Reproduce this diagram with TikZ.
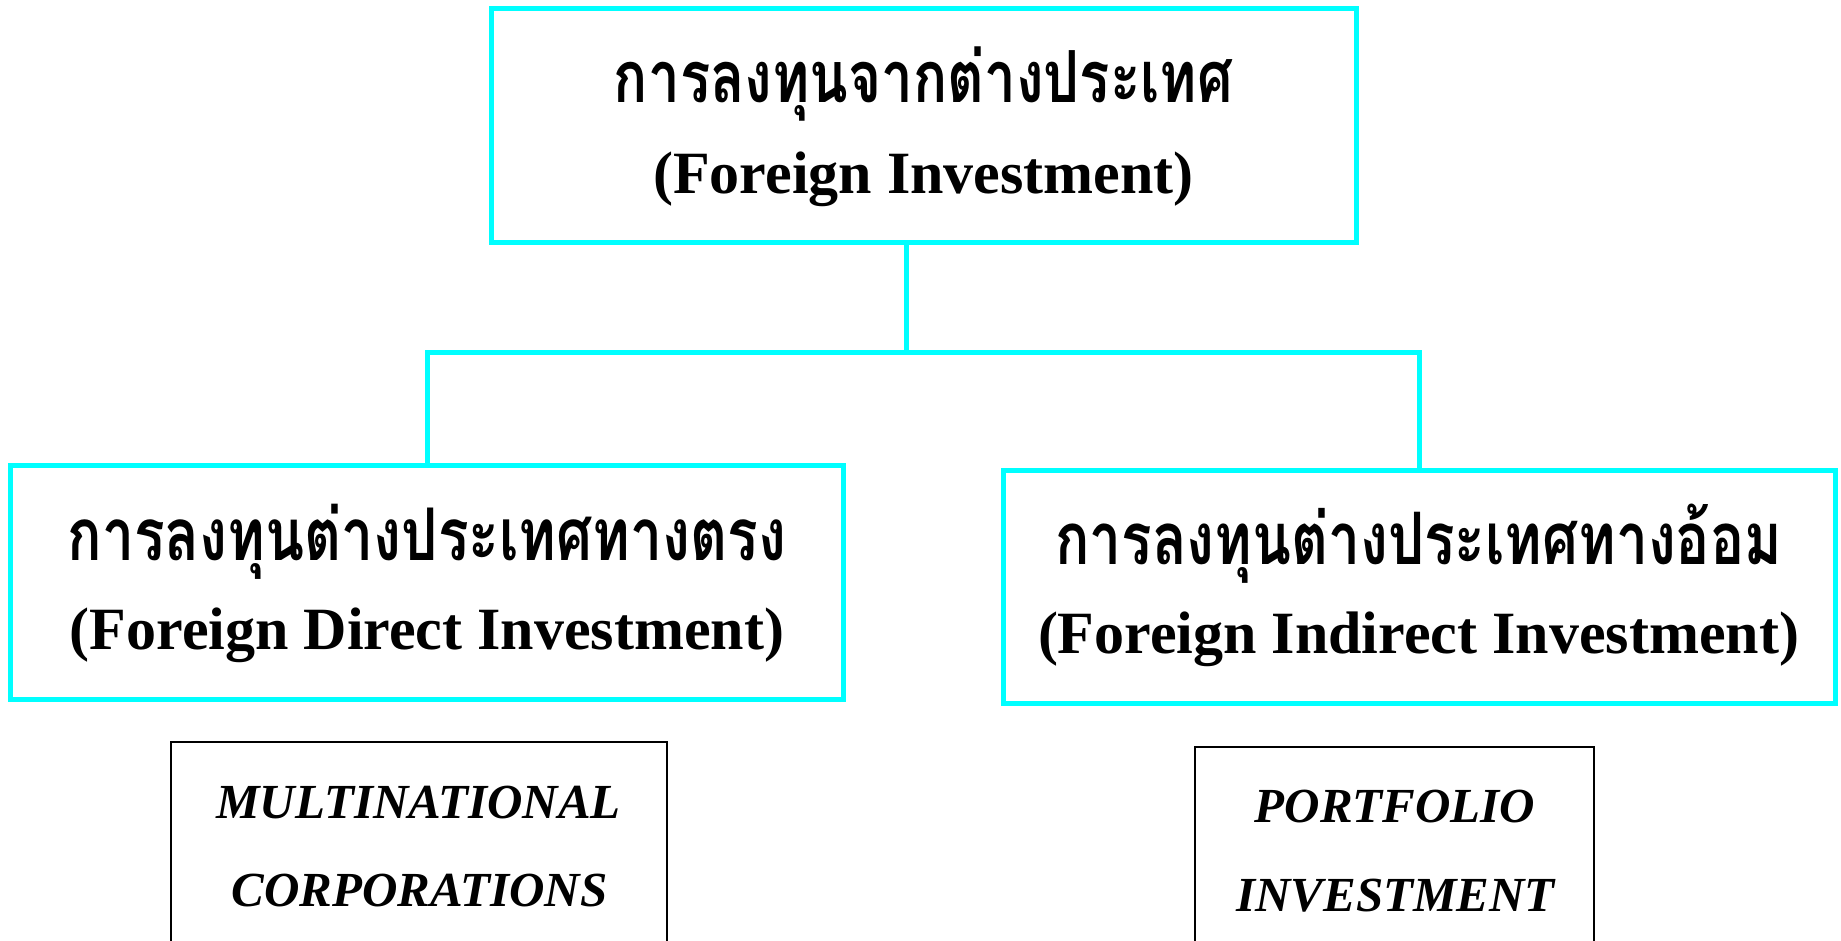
\documentclass[tikz,border=0pt]{standalone}
\usepackage{fontspec}
\setmainfont{Liberation Serif}
\newfontfamily\thaifont[Script=Thai]{Loma}
\usepackage{graphicx}
\definecolor{boxcyan}{HTML}{00FFFF}
\newcommand{\thaifit}[2]{\scalebox{1}[1.27]{\resizebox{#1}{!}{#2}}}
\tikzset{
  cyanbox/.style={draw=boxcyan, line width=5pt, minimum width=#1, inner sep=0pt},
  cyanline/.style={draw=boxcyan, line width=5pt, line join=miter},
  blackline/.style={draw=black, line width=2pt, line join=miter},
  thtxt/.style={anchor=base, inner sep=0pt, font=\thaifont\bfseries\fontsize{60}{60}\selectfont},
  entxt/.style={anchor=base, inner sep=0pt, font=\bfseries\fontsize{60}{60}\selectfont},
  ittxt/.style={anchor=base, inner sep=0pt, font=\bfseries\itshape\fontsize{49}{49}\selectfont},
  plainarea/.style={inner sep=0pt}
}
\begin{document}
\begin{tikzpicture}[x=1pt,y=-1pt]
\useasboundingbox[fill=white] (0,0) rectangle (1841,941);
% cyan boxes
\node[cyanbox=865pt, minimum height=234pt] (top) at (923.5,126) {};
\node[cyanbox=833pt, minimum height=234pt] (left) at (427,582) {};
\node[cyanbox=832pt, minimum height=233pt] (right) at (1419,586.5) {};
% connectors
\coordinate (bar) at (906,352);
\draw[cyanline] (top.south -| bar) -- (bar);
\draw[cyanline] (left.north) |- (bar) -| (right.north);
% texts in cyan boxes
\node[thtxt] (topth) at (923.5,103) {\thaifit{619pt}{การลงทุนจากต่างประเทศ}};
\node[entxt] (topen) at (923.5,194) {(Foreign Investment)};
\node[thtxt] (leftth) at (427,560) {\thaifit{719pt}{การลงทุนต่างประเทศทางตรง}};
\node[entxt] (leften) at (427,649) {(Foreign Direct Investment)};
\node[thtxt] (rightth) at (1418.5,564) {\thaifit{727pt}{การลงทุนต่างประเทศทางอ้อม}};
\node[entxt] (righten) at (1418.5,653) {(Foreign Indirect Investment)};
% bottom black boxes (open at the bottom edge)
\node[plainarea, minimum width=496pt, minimum height=199pt] (mnc) at (419,841.5) {};
\draw[blackline] (mnc.south west) -- (mnc.north west) -- (mnc.north east) -- (mnc.south east);
\node[ittxt] (mnc1) at (418.5,818) {MULTINATIONAL};
\node[ittxt] (mnc2) at (419.5,906) {CORPORATIONS};
\node[plainarea, minimum width=399pt, minimum height=194pt] (port) at (1394.5,844) {};
\draw[blackline] (port.south west) -- (port.north west) -- (port.north east) -- (port.south east);
\node[ittxt] (port1) at (1395,822) {PORTFOLIO};
\node[ittxt] (port2) at (1395.5,911) {INVESTMENT};
\end{tikzpicture}
\end{document}
